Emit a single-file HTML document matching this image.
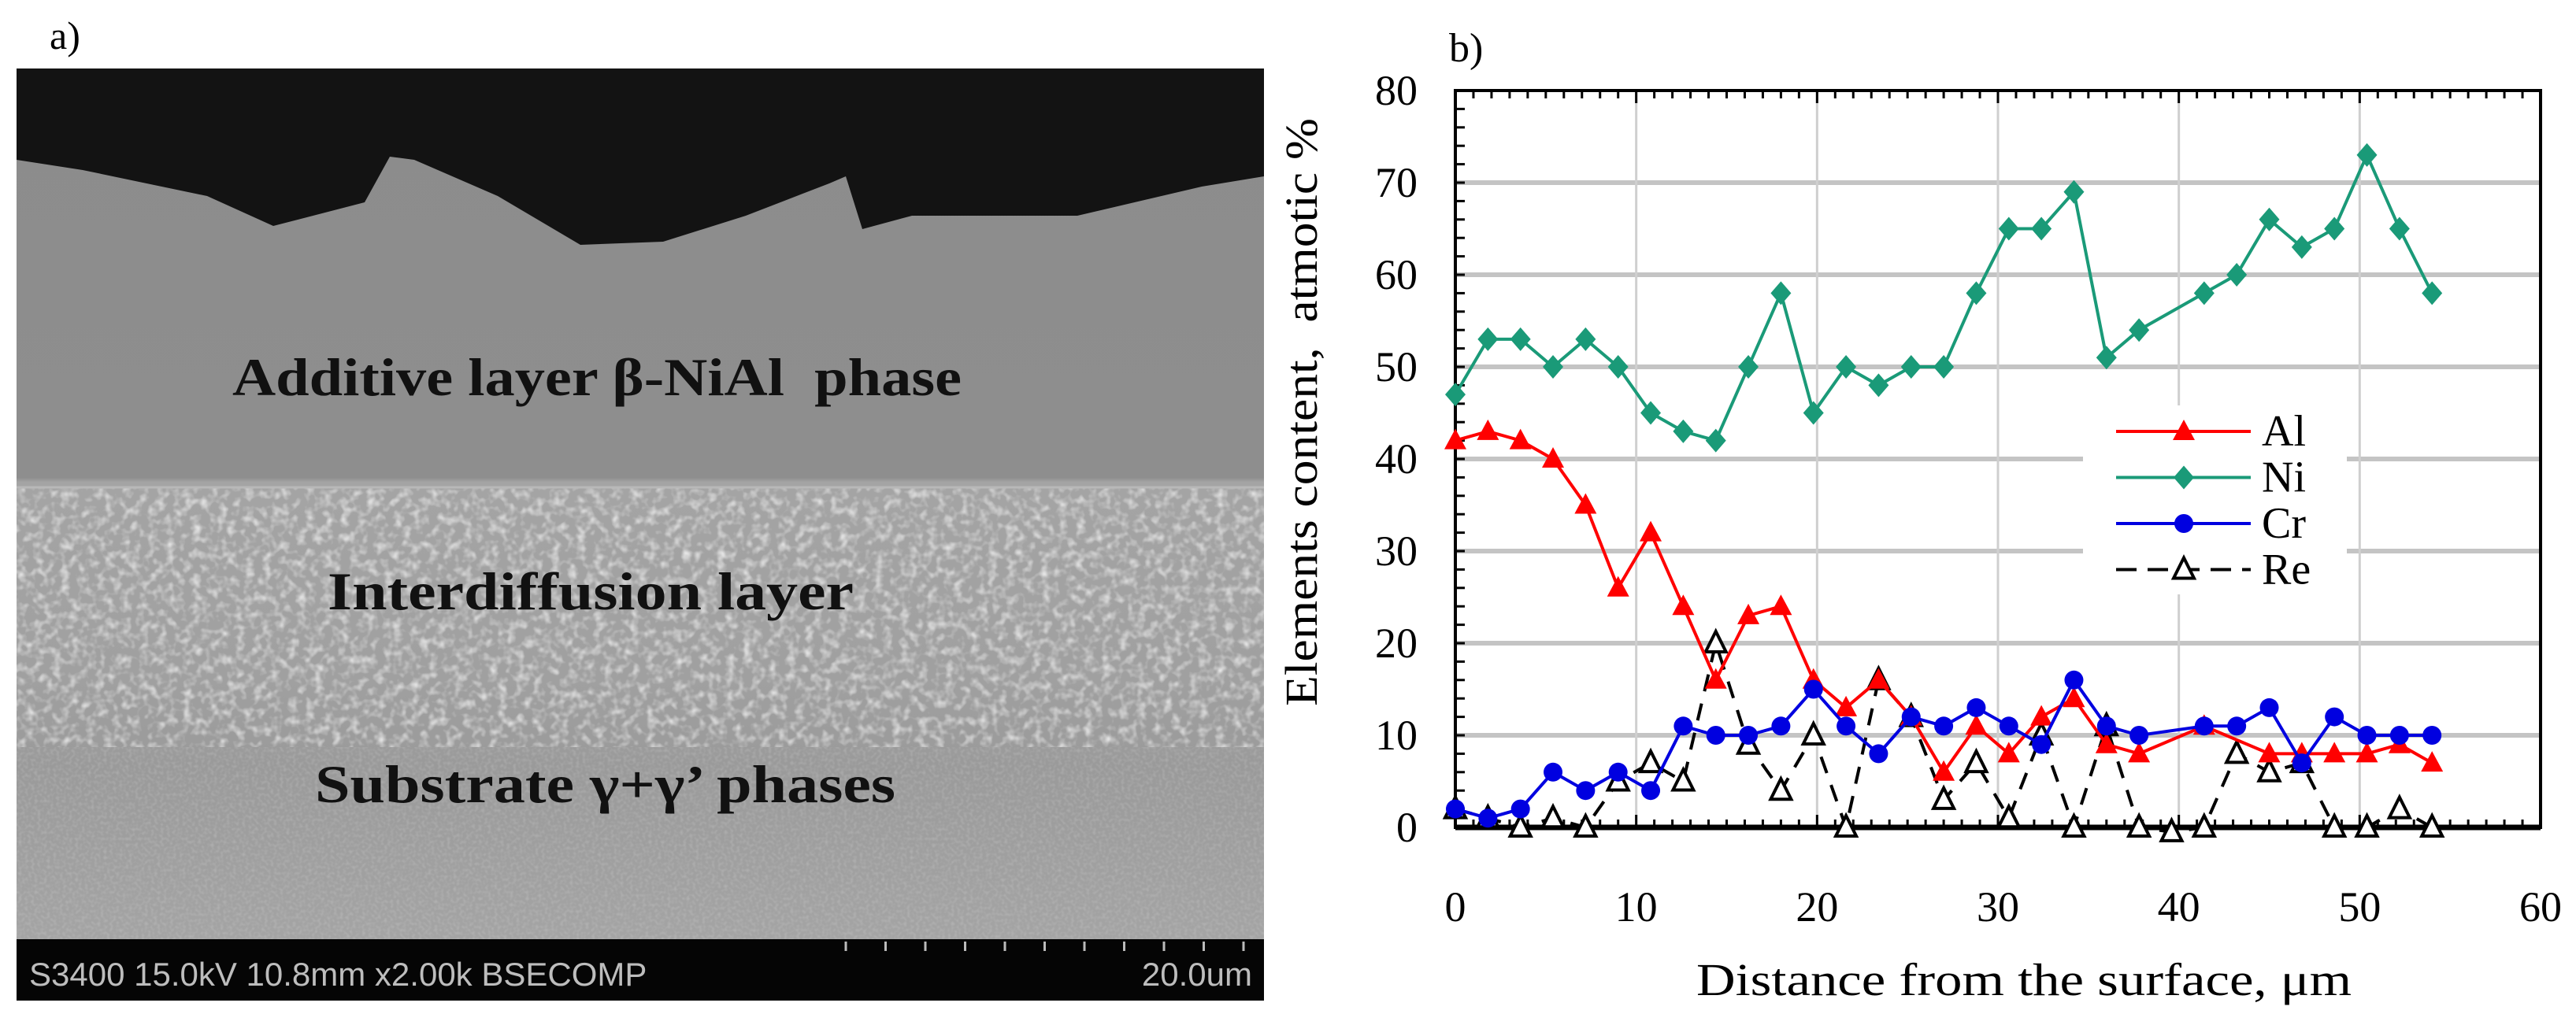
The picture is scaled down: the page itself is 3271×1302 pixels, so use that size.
<!DOCTYPE html>
<html><head><meta charset="utf-8">
<style>
html,body{margin:0;padding:0;background:#fff;}
svg{display:block;font-family:"Liberation Serif",serif;}
</style></head>
<body>
<svg id="fig" width="3271" height="1302" viewBox="0 0 3271 1302" xmlns="http://www.w3.org/2000/svg">
<defs>
<filter id="grain" x="0" y="0" width="100%" height="100%">
<feTurbulence type="fractalNoise" baseFrequency="0.09" numOctaves="2" seed="4" result="n"/>
<feColorMatrix in="n" type="matrix" values="0 0 0 0 1  0 0 0 0 1  0 0 0 0 1  0 0 0 1.8 -0.8" result="w"/>
<feComposite in="w" in2="SourceGraphic" operator="in"/>
</filter>
<filter id="fine" x="0" y="0" width="100%" height="100%">
<feTurbulence type="fractalNoise" baseFrequency="0.25" numOctaves="1" seed="9" result="n"/>
<feColorMatrix in="n" type="matrix" values="0 0 0 0 0.9  0 0 0 0 0.9  0 0 0 0 0.9  0 0 0 1.2 -0.5" result="w"/>
<feComposite in="w" in2="SourceGraphic" operator="in"/>
</filter>
<linearGradient id="layers" x1="0" y1="0" x2="0" y2="1">
<stop offset="0" stop-color="#8c8c8c"/>
<stop offset="0.47" stop-color="#8e8e8e"/>
<stop offset="0.475" stop-color="#a4a4a4"/>
<stop offset="0.7" stop-color="#a0a0a0"/>
<stop offset="0.8" stop-color="#9a9a9a"/>
<stop offset="1" stop-color="#a4a4a4"/>
</linearGradient>
</defs>

<g>
<text x="63" y="62" font-size="50" fill="#000">a)</text>
<rect x="21" y="87" width="1584" height="1106" fill="url(#layers)"/>
<rect x="21" y="619" width="1584" height="330" fill="#fff" filter="url(#grain)" opacity="0.85"/>
<rect x="21" y="949" width="1584" height="244" fill="#fff" filter="url(#fine)" opacity="0.35"/>
<path d="M21,87 L1605,87 L1605,224 L1526,237 L1368,274 L1158,274 L1095,291 L1074,224 L1053,233 L947,274 L842,307 L737,311 L632,249 L526,203 L495,199 L463,257 L347,287 L263,249 L105,216 L21,203 Z" fill="#131313"/>
<line x1="21" y1="619" x2="1605" y2="619" stroke="#b8b8b8" stroke-width="3"/>
<text x="295" y="502" font-size="68" font-weight="bold" fill="#111" textLength="926" lengthAdjust="spacingAndGlyphs">Additive layer β-NiAl&#160; phase</text>
<text x="416" y="774" font-size="68" font-weight="bold" fill="#111" textLength="668" lengthAdjust="spacingAndGlyphs">Interdiffusion layer</text>
<text x="400" y="1019" font-size="68" font-weight="bold" fill="#111" textLength="737" lengthAdjust="spacingAndGlyphs">Substrate γ+γ’ phases</text>
<rect x="21" y="1193" width="1584" height="78" fill="#050505"/>
<g id="scaleticks"></g>
<text x="37" y="1252" font-family="Liberation Sans, sans-serif" font-size="42" fill="#bdbdbd">S3400 15.0kV 10.8mm x2.00k BSECOMP</text>
<text x="1590" y="1252" text-anchor="end" font-family="Liberation Sans, sans-serif" font-size="42" fill="#bdbdbd">20.0um</text>
</g>

<g id="chart">
<text x="1840" y="78" font-size="52" fill="#000">b)</text>
<g id="grid"></g>
<g id="axes"></g>
<g id="series"></g>
<text x="2154" y="1264" font-size="58" fill="#000" textLength="832" lengthAdjust="spacingAndGlyphs">Distance from the surface, μm</text>
<text transform="translate(1672,897) rotate(-90)" font-size="58" fill="#000" textLength="747" lengthAdjust="spacingAndGlyphs">Elements content,&#160; atmotic %</text>
<g id="legend"></g>
</g>
</svg>
<script>
const xTicks = [0,10,20,30,40,50,60];
const yTicks = [0,10,20,30,40,50,60,70,80];
const alX = [0,1.8,3.6,5.4,7.2,9,10.8,12.6,14.4,16.2,18,19.8,21.6,23.4,25.2,27,28.8,30.6,32.4,34.2,36,37.8,41.4,45,46.8,48.6,50.4,52.2,54];
const alY = [42,43,42,40,35,26,32,24,16,23,24,16,13,16,12,6,11,8,12,14,9,8,11,8,8,8,8,9,7];
const niX = [0,1.8,3.6,5.4,7.2,9,10.8,12.6,14.4,16.2,18,19.8,21.6,23.4,25.2,27,28.8,30.6,32.4,34.2,36,37.8,41.4,43.2,45,46.8,48.6,50.4,52.2,54];
const niY = [47,53,53,50,53,50,45,43,42,50,58,45,50,48,50,50,58,65,65,69,51,54,58,60,66,63,65,73,65,58];
const crX = [0,1.8,3.6,5.4,7.2,9,10.8,12.6,14.4,16.2,18,19.8,21.6,23.4,25.2,27,28.8,30.6,32.4,34.2,36,37.8,41.4,43.2,45,46.8,48.6,50.4,52.2,54];
const crY = [2,1,2,6,4,6,4,11,10,10,11,15,11,8,12,11,13,11,9,16,11,10,11,11,13,7,12,10,10,10];
const reX = [0,1.8,3.6,5.4,7.2,9,10.8,12.6,14.4,16.2,18,19.8,21.6,23.4,25.2,27,28.8,30.6,32.4,34.2,36,37.8,39.6,41.4,43.2,45,46.8,48.6,50.4,52.2,54];
const reY = [2,1,0,1,0,5,7,5,20,9,4,10,0,16,12,3,7,1,10,0,11,0,-0.5,0,8,6,7,0,0,2,0];
const seriesNames = ['Al','Ni','Cr','Re'];

const NS='http://www.w3.org/2000/svg';
const L=1848,R=3226,T=115,B=1051;
const sx=v=>L+(v-0)/(60-0)*(R-L);
const sy=v=>B-(v-0)/(80-0)*(B-T);
function mk(tag,attrs,parent){const e=document.createElementNS(NS,tag);for(const k in attrs)e.setAttribute(k,attrs[k]);parent.appendChild(e);return e;}
const grid=document.getElementById('grid'),axes=document.getElementById('axes'),ser=document.getElementById('series'),leg=document.getElementById('legend');

const st=document.getElementById('scaleticks');
for(let i=0;i<11;i++){const t=mk('line',{x1:1074+i*50.5,y1:1196,x2:1074+i*50.5,y2:1208,stroke:'#bbb','stroke-width':3},st);

}

mk('rect',{x:L,y:T,width:R-L,height:B-T,fill:'#fff'},grid);
yTicks.forEach(v=>{if(v>0&&v<80){const g=mk('line',{x1:L,y1:sy(v),x2:R,y2:sy(v),stroke:'#c4c4c4','stroke-width':6},grid);

}
const t=mk('text',{x:1800,y:sy(v)+18,'text-anchor':'end','font-size':54},axes);t.textContent=v;

});
xTicks.forEach(v=>{if(v>0&&v<60){const g=mk('line',{x1:sx(v),y1:T,x2:sx(v),y2:B,stroke:'#cfcfcf','stroke-width':3},grid);

}
const t=mk('text',{x:sx(v),y:1170,'text-anchor':'middle','font-size':54},axes);t.textContent=v;

});
for(let v=0;v<=60;v+=1){const len=(v%10===0)?16:10;
mk('line',{x1:sx(v),y1:B,x2:sx(v),y2:B-len,stroke:'#000','stroke-width':3},axes);
mk('line',{x1:sx(v),y1:T,x2:sx(v),y2:T+len,stroke:'#000','stroke-width':3},axes);}
for(let v=0;v<=80;v+=2){mk('line',{x1:L,y1:sy(v),x2:L+12,y2:sy(v),stroke:'#000','stroke-width':3},axes);}
const frame=mk('rect',{x:L,y:T,width:R-L,height:B-T,fill:'none',stroke:'#000','stroke-width':4},axes);


mk('line',{x1:L,y1:B,x2:R,y2:B,stroke:'#000','stroke-width':7},axes);

function marker(kind,cx,cy,color,parent){
 if(kind==='tri') return mk('polygon',{points:`${cx},${cy-15} ${cx-14},${cy+11} ${cx+14},${cy+11}`,fill:color},parent);
 if(kind==='dia') return mk('polygon',{points:`${cx},${cy-15} ${cx+13},${cy} ${cx},${cy+15} ${cx-13},${cy}`,fill:color},parent);
 if(kind==='dot') return mk('circle',{cx:cx,cy:cy,r:12,fill:color},parent);
 return mk('polygon',{points:`${cx},${cy-15} ${cx-13},${cy+11} ${cx+13},${cy+11}`,fill:'#fff',stroke:'#000','stroke-width':4},parent);
}
const defs=[
 {n:'Al',xs:alX,ys:alY,c:'#ff0000',m:'tri',dash:null},
 {n:'Ni',xs:niX,ys:niY,c:'#1a9a78',m:'dia',dash:null},
 {n:'Cr',xs:crX,ys:crY,c:'#0000e0',m:'dot',dash:null},
 {n:'Re',xs:reX,ys:reY,c:'#000000',m:'open',dash:'22,16'}];
[defs[3],defs[0],defs[2],defs[1]].forEach(s=>{
 const g=mk('g',{},ser);
 
 
 const pts=s.xs.map((x,i)=>sx(x)+','+sy(s.ys[i])).join(' ');
 const pl=mk('polyline',{points:pts,fill:'none',stroke:s.c,'stroke-width':4},g);
 if(s.dash)pl.setAttribute('stroke-dasharray',s.dash);
 
 
 s.xs.forEach((x,i)=>{const p=marker(s.m,sx(x),sy(s.ys[i]),s.c,g);
 
 });
});
mk('rect',{x:2645,y:515,width:335,height:240,fill:'#fff'},leg);
defs.forEach((s,i)=>{const y=548+i*58.5;
 const g=mk('g',{},leg);
 
 
 const l=mk('line',{x1:2687,y1:y,x2:2858,y2:y,stroke:s.c,'stroke-width':4},g);
 if(s.dash)l.setAttribute('stroke-dasharray','26,14');
 marker(s.m,2773,y,s.c,g);
 const t=mk('text',{x:2872,y:y+18,'font-size':56},g);t.textContent=seriesNames[i];
});
</script>
</body></html>
